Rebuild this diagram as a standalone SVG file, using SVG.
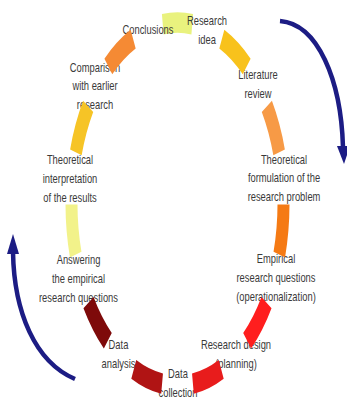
<svg xmlns="http://www.w3.org/2000/svg" width="347" height="401" viewBox="0 0 347 401">
<style>
.lbl{font-family:"Liberation Sans",Arial,sans-serif;font-size:13px;fill:#3a3a3a;text-anchor:middle}
.seg{fill:none;stroke-width:12;stroke-linecap:butt}
.arr{fill:none;stroke:#1c1c84;stroke-width:4.5}
.head{fill:#1c1c84}
</style>
<rect width="347" height="401" fill="#ffffff"/>
<g id="connectors-back">
<g transform="translate(177.5,204) scale(1,1.712)">
<path class="seg" stroke="#e9f27e" d="M -14.75 -104.97 A 106 106 0 0 1 14.75 -104.97"/>
</g>
</g>
<g id="node-research-idea"><text class="lbl" transform="translate(207,25) scale(0.72,1)"><tspan x="0">Research</tspan><tspan x="0" dy="19">idea</tspan></text></g>
<g id="node-literature-review"><text class="lbl" transform="translate(258,79) scale(0.72,1)"><tspan x="0">Literature</tspan><tspan x="0" dy="19">review</tspan></text></g>
<g id="node-theoretical-formulation"><text class="lbl" transform="translate(284,163.5) scale(0.72,1)"><tspan x="0">Theoretical</tspan><tspan x="0" dy="19">formulation of the</tspan><tspan x="0" dy="19">research problem</tspan></text></g>
<g id="node-empirical-questions"><text class="lbl" transform="translate(276,263) scale(0.72,1)"><tspan x="0">Empirical</tspan><tspan x="0" dy="19">research questions</tspan><tspan x="0" dy="19">(operationalization)</tspan></text></g>
<g id="node-research-design"><text class="lbl" transform="translate(236,349) scale(0.72,1)"><tspan x="0">Research design</tspan><tspan x="0" dy="19">(planning)</tspan></text></g>
<g id="node-data-collection"><text class="lbl" transform="translate(178,378) scale(0.72,1)"><tspan x="0">Data</tspan><tspan x="0" dy="19">collection</tspan></text></g>
<g id="node-data-analysis"><text class="lbl" transform="translate(118.5,349) scale(0.72,1)"><tspan x="0">Data</tspan><tspan x="0" dy="19">analysis</tspan></text></g>
<g id="node-answering"><text class="lbl" transform="translate(78.5,264) scale(0.72,1)"><tspan x="0">Answering</tspan><tspan x="0" dy="19">the empirical</tspan><tspan x="0" dy="19">research questions</tspan></text></g>
<g id="node-theoretical-interpretation"><text class="lbl" transform="translate(70,164) scale(0.72,1)"><tspan x="0">Theoretical</tspan><tspan x="0" dy="19">interpretation</tspan><tspan x="0" dy="19">of the results</tspan></text></g>
<g id="node-comparison"><text class="lbl" transform="translate(95,71.5) scale(0.72,1)"><tspan x="0">Comparison</tspan><tspan x="0" dy="19">with earlier</tspan><tspan x="0" dy="19">research</tspan></text></g>
<g id="node-conclusions"><text class="lbl" transform="translate(148,34) scale(0.72,1)"><tspan x="0">Conclusions</tspan></text></g>
<g id="connectors">
<g transform="translate(177.5,204) scale(1,1.712)">
<path class="seg" stroke="#f8c21c" d="M 44.34 -96.28 A 106 106 0 0 1 69.19 -80.31"/>
<path class="seg" stroke="#f79a46" d="M 89.36 -57.03 A 106 106 0 0 1 101.61 -30.19"/>
<path class="seg" stroke="#f57a14" d="M 106 0.33 A 106 106 0 0 1 101.80 29.54"/>
<path class="seg" stroke="#ff1e1e" d="M 88.99 57.60 A 106 106 0 0 1 69.66 79.89"/>
<path class="seg" stroke="#e81c1c" d="M 43.73 96.57 A 106 106 0 0 1 15.41 104.88"/>
<path class="seg" stroke="#b01414" d="M -15.41 104.88 A 106 106 0 0 1 -43.73 96.57"/>
<path class="seg" stroke="#7e0a0a" d="M -69.70 79.87 A 106 106 0 0 1 -88.99 57.60"/>
<path class="seg" stroke="#f2f28a" d="M -101.80 29.54 A 106 106 0 0 1 -106 0.33"/>
<path class="seg" stroke="#f6c426" d="M -101.61 -30.19 A 106 106 0 0 1 -89.36 -57.03"/>
<path class="seg" stroke="#f58a34" d="M -69.15 -80.34 A 106 106 0 0 1 -44.34 -96.28"/>
</g>
<path class="arr" d="M 280 21 C 318 24, 341 80, 343 147"/>
<polygon class="head" points="337,146 350,146 344,164"/>
<path class="arr" d="M 75 379 C 35 362, 14 312, 13 252"/>
<polygon class="head" points="7,254 19,254 13,234"/>
</g>
</svg>
